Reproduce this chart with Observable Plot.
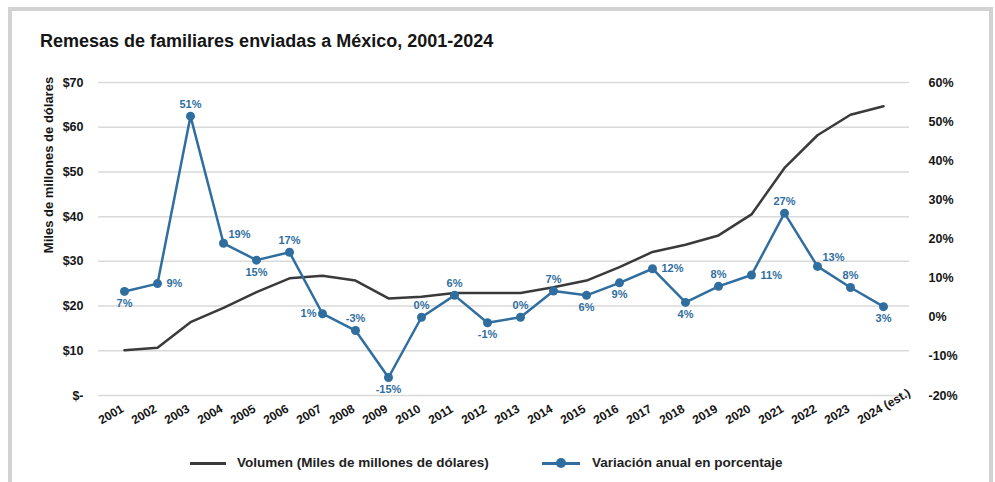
<!DOCTYPE html>
<html><head><meta charset="utf-8">
<script src="https://cdn.jsdelivr.net/npm/d3@7"></script>
<script src="https://cdn.jsdelivr.net/npm/@observablehq/plot@0.6"></script>
<style>
body{margin:0;background:#fff;font-family:"Liberation Sans",Arial,sans-serif;}
#wrap{position:relative;width:995px;height:482px;overflow:hidden;background:#fff;}
#frame{position:absolute;left:8px;top:7px;width:985px;height:520px;border:4px solid #d2d2d2;box-sizing:border-box;}
#title{position:absolute;left:40px;top:31px;font-weight:bold;font-size:18px;color:#151515;white-space:nowrap;}
#ylab{position:absolute;left:48px;top:165px;transform:translate(-50%,-50%) rotate(-90deg);font-weight:bold;font-size:13px;color:#151515;white-space:nowrap;}
#chart{position:absolute;left:0;top:0;}
.legtext{position:absolute;top:455px;font-weight:bold;font-size:13.5px;color:#222;white-space:nowrap;}
.legline{position:absolute;height:3px;}
.legdot{position:absolute;width:10px;height:10px;border-radius:50%;}
</style>
</head><body>
<div id="wrap">
  <div id="frame"></div>
  <div id="chart"></div>
  <div id="title">Remesas de familiares enviadas a México, 2001-2024</div>
  <div id="ylab">Miles de millones de dólares</div>
  <div class="legline" style="left:190px;top:462px;width:36px;background:#3a3a3a"></div>
  <div class="legtext" style="left:237px">Volumen (Miles de millones de dólares)</div>
  <div class="legline" style="left:542px;top:462px;width:38px;background:#2f6e9f"></div>
  <div class="legdot" style="left:556px;top:458px;background:#2f6e9f"></div>
  <div class="legtext" style="left:592px">Variación anual en porcentaje</div>
</div>
<script>
const years = ["2001","2002","2003","2004","2005","2006","2007","2008","2009","2010","2011","2012","2013","2014","2015","2016","2017","2018","2019","2020","2021","2022","2023","2024 (est.)"];
const volume = [10.1,10.7,16.4,19.6,23.1,26.2,26.8,25.7,21.7,22.1,22.9,22.9,22.9,24.2,25.7,28.7,32.1,33.7,35.8,40.5,50.9,58.2,62.8,64.7];
const pctChange = [6.6,8.6,51.4,18.9,14.6,16.6,0.9,-3.4,-15.4,0.0,5.6,-1.4,0.0,6.7,5.6,8.8,12.4,3.8,7.9,10.8,26.6,13.0,7.6,2.7];
const labelSide = ["b","r","a","ar","b","a","l","a","b","a","a","b","a","a","b","b","r","b","a","r","a","ar","a","b"];
const leftTicks = [0,10,20,30,40,50,60,70];
const rightTicks = [-20,-10,0,10,20,30,40,50,60];

const BLUE = "#2f6e9f", DARK = "#3a3a3a";
// secondary axis: percent [-20,60] mapped onto dollar domain [0,70]
const toY = p => (p + 20) * 70 / 80;
const fromY = v => v * 80 / 70 - 20;

const rows = years.map((y, i) => ({year: y, vol: volume[i], pct: pctChange[i], side: labelSide[i]}));
const sideOpts = {
  a: {dy: -12, textAnchor: "middle"},
  b: {dy: 12, textAnchor: "middle"},
  r: {dx: 9, dy: 0, textAnchor: "start"},
  l: {dx: -6, dy: 0, textAnchor: "end"},
  ar: {dx: 16, dy: -9, textAnchor: "middle"}
};
const labelMarks = Object.entries(sideOpts).map(([s, o]) =>
  Plot.text(rows.filter(d => d.side === s), {
    x: "year", y: d => toY(d.pct), text: d => Math.round(d.pct) + "%",
    fill: BLUE, fontWeight: "bold", fontSize: 11, ...o
  })
);

const chart = Plot.plot({
  width: 995, height: 482,
  marginLeft: 98, marginRight: 86, marginTop: 82, marginBottom: 87,
  style: {fontFamily: "'Liberation Sans', Arial, sans-serif", background: "transparent"},
  x: {type: "point", domain: years, padding: 0.5, axis: null},
  y: {domain: [0, 70]},
  marks: [
    Plot.ruleY(leftTicks, {stroke: "#d9d9d9", strokeWidth: 1.5}),
    Plot.axisY(leftTicks, {anchor: "left", tickSize: 0, tickPadding: 15, label: null,
      tickFormat: d => d === 0 ? "$-" : "$" + d, fontWeight: "bold", fontSize: 12.5, fill: "#151515"}),
    Plot.axisY(rightTicks.map(toY), {anchor: "right", tickSize: 0, tickPadding: 19, label: null,
      tickFormat: v => Math.round(fromY(v)) + "%", fontWeight: "bold", fontSize: 12.5, fill: "#151515"}),
    // x tick labels (category axis), rotated
    Plot.text(years, {x: d => d, text: d => d, frameAnchor: "bottom", rotate: -30,
      textAnchor: "start", lineAnchor: "bottom", dx: -23, dy: 29,
      fontWeight: "bold", fontSize: 12, fill: "#151515"}),
    Plot.line(rows, {x: "year", y: "vol", stroke: DARK, strokeWidth: 2.5}),
    Plot.line(rows, {x: "year", y: d => toY(d.pct), stroke: BLUE, strokeWidth: 2.5}),
    Plot.dot(rows, {x: "year", y: d => toY(d.pct), r: 4.5, fill: BLUE}),
    ...labelMarks
  ]
});
document.getElementById("chart").appendChild(chart);
</script>
</body></html>
